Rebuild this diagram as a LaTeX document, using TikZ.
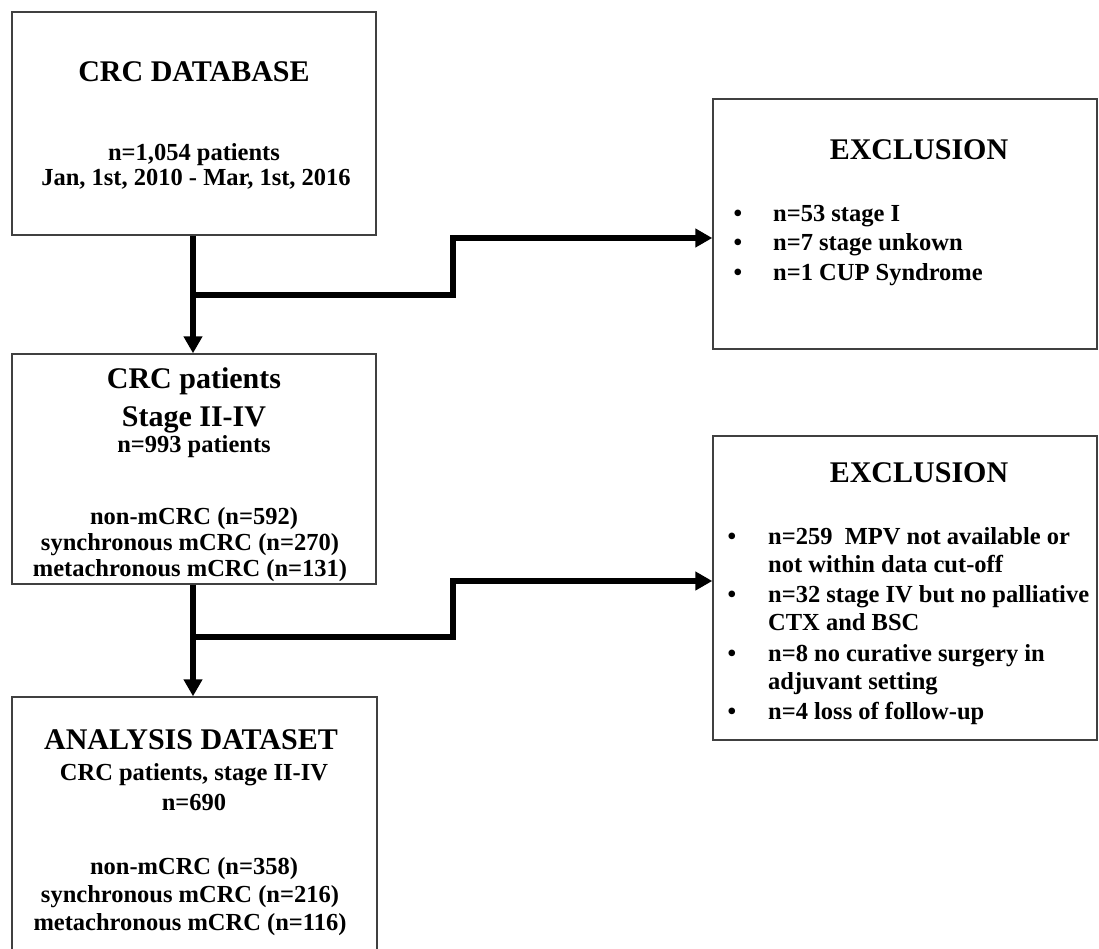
\documentclass[tikz,border=0pt]{standalone}
\usepackage{fontspec}
\setmainfont{Liberation Serif}
\usetikzlibrary{arrows.meta}
\begin{document}
\begin{tikzpicture}[x=1pt,y=-1pt,
  box/.style={draw=black!75, line width=1.4pt, inner sep=0pt},
  ttl/.style={font=\fontsize{30}{30}\selectfont\bfseries, anchor=base, inner sep=0pt},
  txt/.style={font=\fontsize{24.5}{24.5}\selectfont\bfseries, anchor=base, inner sep=0pt},
  btxt/.style={txt, anchor=base west},
  flow/.style={line width=5.8pt, draw=black, line join=miter},
  arr/.style={flow, -{Triangle[length=17pt,width=18pt]}}]
\useasboundingbox (0,0) rectangle (1099,949);
\fill[white] (0,0) rectangle (1099,949);

% boxes
\node[box, minimum width=364pt, minimum height=223pt] (b1) at (194,123.5) {};
\node[box, minimum width=364pt, minimum height=230pt] (b2) at (194,469) {};
\node[box, minimum width=365pt, minimum height=283pt] (b3) at (194.5,838.5) {};
\node[box, minimum width=384pt, minimum height=250pt] (e1) at (905,224) {};
\node[box, minimum width=384pt, minimum height=304pt] (e2) at (905,588) {};

% box 1 text
\node[ttl] (t1a) at (194,82) {CRC DATABASE};
\node[txt] (t1b) at (194,161) {n=1,054 patients};
\node[txt] (t1c) at (196,186) {Jan, 1st, 2010 - Mar, 1st, 2016};

% box 2 text
\node[ttl] (t2a) at (194,388) {CRC patients};
\node[ttl] (t2b) at (194,426) {Stage II-IV};
\node[txt] (t2c) at (194,452) {n=993 patients};
\node[txt] (t2d) at (194,524) {non-mCRC (n=592)};
\node[txt] (t2e) at (190,550) {synchronous mCRC (n=270)};
\node[txt] (t2f) at (190,576) {metachronous mCRC (n=131)};

% box 3 text
\node[ttl] (t3a) at (191,749) {ANALYSIS DATASET};
\node[txt] (t3b) at (194,780) {CRC patients, stage II-IV};
\node[txt] (t3c) at (194,810) {n=690};
\node[txt] (t3d) at (194,874) {non-mCRC (n=358)};
\node[txt] (t3e) at (190,902) {synchronous mCRC (n=216)};
\node[txt] (t3f) at (190,930) {metachronous mCRC (n=116)};

% exclusion 1
\node[ttl] (x1t) at (919,160) {EXCLUSION};
\node[txt] (x1b1) at (738,222) {•};
\node[btxt] (x1l1) at (773,222) {n=53 stage I};
\node[txt] (x1b2) at (738,251) {•};
\node[btxt] (x1l2) at (773,251) {n=7 stage unkown};
\node[txt] (x1b3) at (738,280) {•};
\node[btxt] (x1l3) at (773,280) {n=1 CUP Syndrome};

% exclusion 2
\node[ttl] (x2t) at (919,482) {EXCLUSION};
\node[txt] (x2b1) at (732,544) {•};
\node[btxt] (x2l1) at (768,544) {n=259\ \ MPV not available or};
\node[btxt] (x2l2) at (768,572) {not within\ data cut-off};
\node[txt] (x2b2) at (732,602) {•};
\node[btxt] (x2l3) at (768,602) {n=32 stage IV but no palliative};
\node[btxt] (x2l4) at (768,630) {CTX and BSC};
\node[txt] (x2b3) at (732,661) {•};
\node[btxt] (x2l5) at (768,661) {n=8 no curative surgery in};
\node[btxt] (x2l6) at (768,689) {adjuvant setting};
\node[txt] (x2b4) at (732,719) {•};
\node[btxt] (x2l7) at (768,719) {n=4 loss of follow-up};

% connectors
\coordinate (s1) at (193,295);
\coordinate (k1) at (453,295);
\coordinate (k2) at (453,238);
\coordinate (s2) at (193,637);
\coordinate (k3) at (453,637);
\coordinate (k4) at (453,581);

\draw[arr] (b1.south -| s1) -- (b2.north -| s1);
\draw[arr] (s1) -- (k1) -- (k2) -- (k2 -| e1.west);
\draw[arr] (b2.south -| s2) -- (b3.north -| s2);
\draw[arr] (s2) -- (k3) -- (k4) -- (k4 -| e2.west);
\end{tikzpicture}
\end{document}
